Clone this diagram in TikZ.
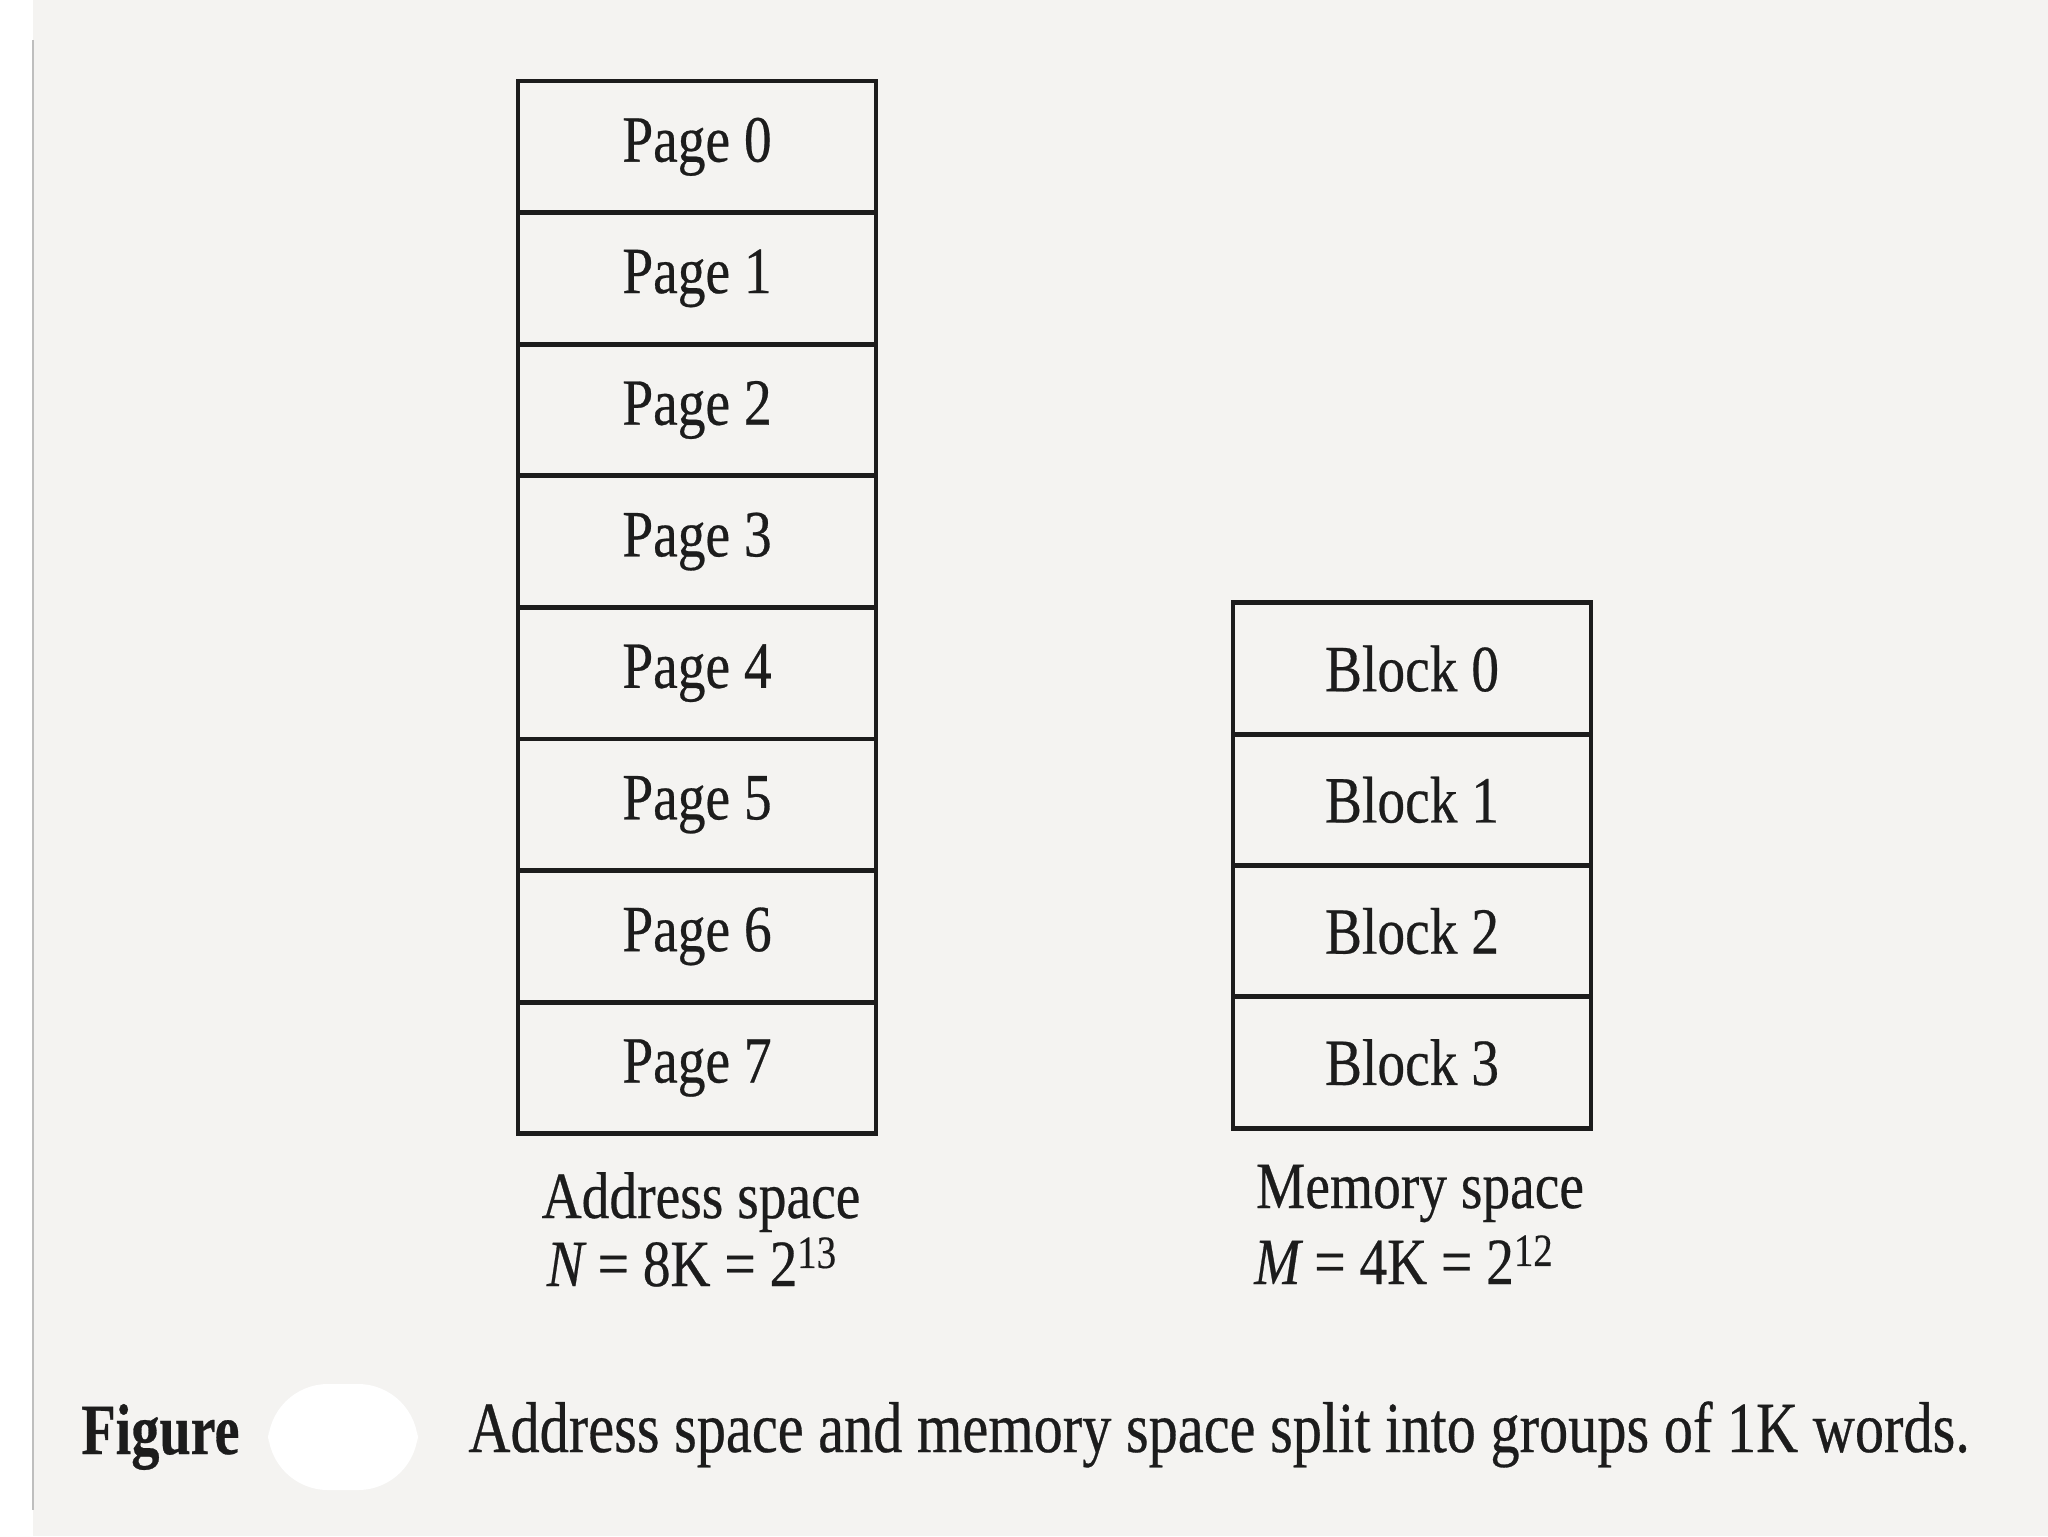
\documentclass[tikz,border=0pt]{standalone}
\usepackage{fontspec}
\setmainfont{Liberation Serif}
\newfontfamily\figfont[FakeStretch=0.84,FakeBold=0.4]{Liberation Serif}
\newfontfamily\capfont[FakeStretch=0.81,FakeBold=0.4]{Liberation Serif}
\definecolor{paper}{RGB}{244,243,241}
\definecolor{ink}{RGB}{28,28,28}
\definecolor{edge}{RGB}{190,190,190}
\tikzset{
  cell/.style={draw=ink, line width=2.4pt, minimum width=179pt, minimum height=65.8pt,
    inner sep=0pt, text=ink, font=\figfont\fontsize{33}{33}\selectfont},
  lbl/.style={inner sep=0pt, text=ink, anchor=base, font=\figfont\fontsize{33}{33}\selectfont},
  captxt/.style={inner sep=0pt, text=ink, anchor=base west, font=\capfont\fontsize{36}{36}\selectfont}
}
\begin{document}
\begin{tikzpicture}[x=0.5pt,y=-0.5pt]
\useasboundingbox (0,0) rectangle (2048,1536);
\fill[white] (0,0) rectangle (2048,1536);
\fill[paper] (33,0) rectangle (2048,1536);
\draw[edge, line width=1pt] (33,40) -- (33,1510);
% pages
\foreach \i in {0,...,7}{
  \pgfmathsetmacro{\yy}{81+131.6*(\i+0.5)}
  \node[cell] (p\i) at (697,\yy) {Page \i};
}
% blocks
\foreach \i in {0,...,3}{
  \pgfmathsetmacro{\yy}{603+131.25*(\i+0.5)}
  \node[cell] (b\i) at (1412,\yy) {Block \i};
}
% labels
\node[lbl] (addr) at (701,1218) {Address space};
\node[lbl] (addrN) at (692,1286) {{\itshape N} = 8K = 2\textsuperscript{13}};
\node[lbl] (mem) at (1420,1208) {Memory space};
\node[lbl] (memM) at (1404,1284) {{\itshape M} = 4K = 2\textsuperscript{12}};
% caption
\node[captxt] (fig) at (81,1454) {\bfseries\addfontfeature{FakeStretch=0.78}Figure};
\fill[white, rounded corners=30pt] (268,1384) rectangle (418,1490);
\node[captxt] (cap) at (468,1452) {Address space and memory space split into groups of 1K words.};
\end{tikzpicture}
\end{document}
